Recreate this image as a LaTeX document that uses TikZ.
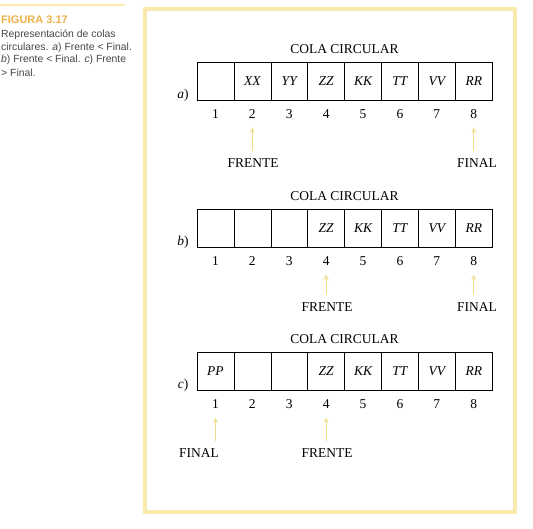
\documentclass[tikz,border=0pt]{standalone}
\usepackage{fontspec}
\setmainfont{Liberation Serif}
\newfontfamily\leyendafont{Liberation Sans}
\usetikzlibrary{positioning}
\definecolor{marco}{RGB}{249,233,172}
\definecolor{flecha}{RGB}{240,222,140}
\definecolor{titulo}{RGB}{236,178,72}
\definecolor{leyenda}{RGB}{70,70,70}

\begin{document}
\begin{tikzpicture}[x=1pt, y=-1pt, >=stealth,
		celda/.style={draw, line width=0.6pt, minimum width=36.9pt, minimum height=38pt,
				inner sep=0pt, font=\fontsize{13.5}{15}\selectfont\itshape},
		texto/.style={font=\fontsize{13.5}{15}\selectfont, inner sep=1pt},
		puntero/.style={->, draw=flecha, line width=1.3pt},
		capt/.style={anchor=west, inner sep=0pt, text=leyenda,
				font=\leyendafont\fontsize{10.4}{12}\selectfont}]
	\useasboundingbox (0, 0) rectangle (533, 528);

	% leyenda de la figura
	\draw[marco, line width=1.5pt] (0, 5) -- (125, 5);
	\node[capt, text=titulo, font=\leyendafont\bfseries\fontsize{11}{12}\selectfont]
		(fig) at (1, 20) {FIGURA 3.17};
	\node[capt] (l1) at (1, 35) {Representación de colas};
	\node[capt] (l2) at (1, 48) {circulares. \textit{a}) Frente < Final.};
	\node[capt] (l3) at (1, 60) {\textit{b}) Frente < Final. \textit{c}) Frente};
	\node[capt] (l4) at (1, 73) {> Final.};

	% marco
	\draw[marco, line width=3.5pt] (145, 9) rectangle (515, 512);

	% colas
	\foreach \fila/\y/\cont in {a/62/{{},XX,YY,ZZ,KK,TT,VV,RR},
			b/209/{{},{},{},ZZ,KK,TT,VV,RR},
			c/352/{PP,{},{},ZZ,KK,TT,VV,RR}} {
			\node[texto] (tit\fila) at (344.5, \y-13) {COLA CIRCULAR};
			\node[texto] (let\fila) at (183, \y+33) {\textit{\fila})};
			\foreach \t [count=\i] in \cont {
					\node[celda] (c\fila\i) at (197+36.9*\i-18.45, \y+19) {\t};
					\node[texto] (n\fila\i) at (197+36.9*\i-18.45, \y+52) {\i};
				}
		}

	% punteros
	\node[texto] (frentea) at (253, 163) {FRENTE};
	\node[texto] (finala) at (477, 163) {FINAL};
	\node[texto] (frenteb) at (327, 307) {FRENTE};
	\node[texto] (finalb) at (477, 307) {FINAL};
	\node[texto] (finalc) at (199, 453) {FINAL};
	\node[texto] (frentec) at (327, 453) {FRENTE};

	\foreach \p/\n in {frentea/na2, finala/na8, frenteb/nb4, finalb/nb8,
			finalc/nc1, frentec/nc4} {
			\draw[puntero, shorten <=6pt, shorten >=8pt] (\p.north -| \n.south) -- (\n.south);
		}
\end{tikzpicture}
\end{document}
